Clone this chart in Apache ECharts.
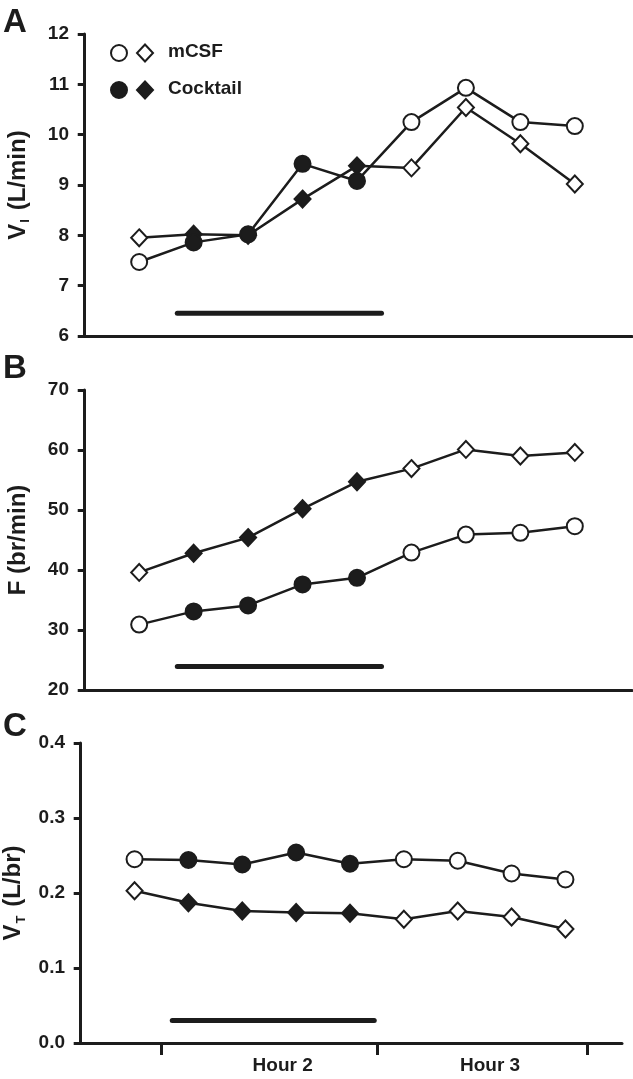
<!DOCTYPE html>
<html>
<head>
<meta charset="utf-8">
<script src="https://cdn.jsdelivr.net/npm/echarts@6/dist/echarts.min.js"></script>
<style>
html,body{margin:0;padding:0;background:#fff;}
#chart{width:633px;height:1079px;}
</style>
</head>
<body>
<div id="chart"></div>
<script>
// ---- data ----
const xs = [1, 2, 3, 4, 5, 6, 7, 8, 9];
const phase = ['mCSF', 'Cocktail', 'Cocktail', 'Cocktail', 'Cocktail', 'mCSF', 'mCSF', 'mCSF', 'mCSF'];

const viCircle = [7.47, 7.86, 8.02, 9.42, 9.08, 10.25, 10.93, 10.25, 10.17];
const viDiamond = [7.95, 8.02, 8.00, 8.72, 9.38, 9.34, 10.54, 9.82, 9.02];

const fCircle = [30.9, 33.1, 34.1, 37.6, 38.7, 42.9, 45.9, 46.2, 47.3];
const fDiamond = [39.6, 42.8, 45.4, 50.2, 54.7, 56.9, 60.1, 59.0, 59.6];

const vtCircle = [0.245, 0.244, 0.238, 0.254, 0.239, 0.245, 0.243, 0.226, 0.218];
const vtDiamond = [0.203, 0.187, 0.176, 0.174, 0.173, 0.165, 0.176, 0.168, 0.152];

// infusion bar (x start, x end, y level per panel)
const barX = [1.7, 5.45];
const barY = [6.45, 23.9, 0.03];

const xTickValues = [1.5, 5.5, 9.4];
const xLabelValues = [3.75, 7.6];
const xLabels = ['Hour 2', 'Hour 3'];

const yAxes = [
  {min: 6, max: 12, interval: 1, dec: 0},
  {min: 20, max: 70, interval: 10, dec: 0},
  {min: 0, max: 0.4, interval: 0.1, dec: 1}
];
const legendNames = ['mCSF', 'Cocktail'];
const panelLetters = ['A', 'B', 'C'];

// ---- styling ----
const INK = '#1c1c1c';
const FONT = '"Liberation Sans", Arial, sans-serif';

const grids = [
  {left: 82, top: 34, width: 550, height: 302, outerBoundsMode: 'none', containLabel: false},
  {left: 82, top: 390, width: 550, height: 300, outerBoundsMode: 'none', containLabel: false},
  {left: 78, top: 743, width: 544, height: 300, outerBoundsMode: 'none', containLabel: false}
];

function pts(arr) {
  return xs.map((x, i) => ({
    value: [x, arr[i]],
    itemStyle: {color: phase[i] === 'Cocktail' ? INK : '#fff'}
  }));
}

function lineSeries(idx, arr, symbol, size) {
  return {
    type: 'line',
    xAxisIndex: idx, yAxisIndex: idx,
    data: pts(arr),
    symbol: symbol,
    symbolSize: size,
    showAllSymbol: true,
    lineStyle: {color: INK, width: 2.5},
    itemStyle: {borderColor: INK, borderWidth: 2},
    emphasis: {disabled: true},
    animation: false,
    z: 3
  };
}

function barSeries(idx) {
  return {
    type: 'line',
    xAxisIndex: idx, yAxisIndex: idx,
    data: [[barX[0], barY[idx]], [barX[1], barY[idx]]],
    symbol: 'none',
    lineStyle: {color: INK, width: 5, cap: 'round'},
    animation: false,
    z: 2
  };
}

const yNames = [
  '{v|V}{sub|I}{v| (L/min)}',
  '{v|F (br/min)}',
  '{v|V}{sub|T}{v| (L/br)}'
];

const xAxis = grids.map((g, i) => ({
  type: 'value', gridIndex: i, min: -0.05, max: 10.05,
  axisLine: {show: true, onZero: false, lineStyle: {color: INK, width: 3}},
  axisTick: i === 2 ? {show: true, customValues: xTickValues, length: 12, lineStyle: {color: INK, width: 3}} : {show: false},
  axisLabel: i === 2 ? {
    show: true, customValues: xLabelValues, margin: 13,
    formatter: v => { const k = xLabelValues.findIndex(p => Math.abs(p - v) < 1e-6); return k >= 0 ? xLabels[k] : ''; },
    color: INK, fontFamily: FONT, fontWeight: 'bold', fontSize: 19
  } : {show: false},
  splitLine: {show: false}
}));

const yAxis = yAxes.map((a, i) => ({
  type: 'value', gridIndex: i, min: a.min, max: a.max, interval: a.interval,
  axisLine: {show: true, lineStyle: {color: INK, width: 3}},
  axisTick: {show: true, length: 7, lineStyle: {color: INK, width: 3}},
  axisLabel: {color: INK, fontFamily: FONT, fontWeight: 'bold', fontSize: 19, margin: 13,
    formatter: v => v.toFixed(a.dec)},
  splitLine: {show: false},
  name: yNames[i],
  nameLocation: 'middle',
  nameRotate: 90,
  nameGap: 50,
  nameTextStyle: {
    rich: {
      v: {fontFamily: FONT, fontWeight: 'bold', fontSize: 24, color: INK, lineHeight: 28},
      sub: {fontFamily: FONT, fontWeight: 'bold', fontSize: 13, color: INK, lineHeight: 28, verticalAlign: 'bottom', padding: [0, 2, 0, 1]}
    }
  }
}));

const series = [];
const data = [[viDiamond, viCircle], [fDiamond, fCircle], [vtDiamond, vtCircle]];
data.forEach((pair, i) => {
  series.push(barSeries(i));
  series.push(lineSeries(i, pair[0], 'diamond', [16, 17]));
  series.push(lineSeries(i, pair[1], 'circle', 16));
});

// legend (panel A) and panel letters
const graphic = [];
const panelTops = [6, 352, 710];
panelLetters.forEach((L, i) => graphic.push({
  type: 'text', left: 3, top: panelTops[i],
  style: {text: L, font: 'bold 33px ' + FONT, fill: INK}
}));
const legRows = [53, 90];
legendNames.forEach((name, r) => {
  const fill = r === 0 ? '#fff' : INK;
  const cy = legRows[r];
  graphic.push({type: 'circle', shape: {cx: 119, cy: cy, r: 8}, style: {fill: fill, stroke: INK, lineWidth: 2}});
  graphic.push({type: 'polygon', shape: {points: [[145, cy - 8.5], [153, cy], [145, cy + 8.5], [137, cy]]}, style: {fill: fill, stroke: INK, lineWidth: 2}});
  graphic.push({type: 'text', left: 168, top: cy - 11, style: {text: name, font: 'bold 19px ' + FONT, fill: INK}});
});

const chart = echarts.init(document.getElementById('chart'), null, {renderer: 'canvas'});
chart.setOption({
  backgroundColor: '#fff',
  animation: false,
  grid: grids,
  xAxis: xAxis,
  yAxis: yAxis,
  series: series,
  graphic: graphic
});
</script>
</body>
</html>
